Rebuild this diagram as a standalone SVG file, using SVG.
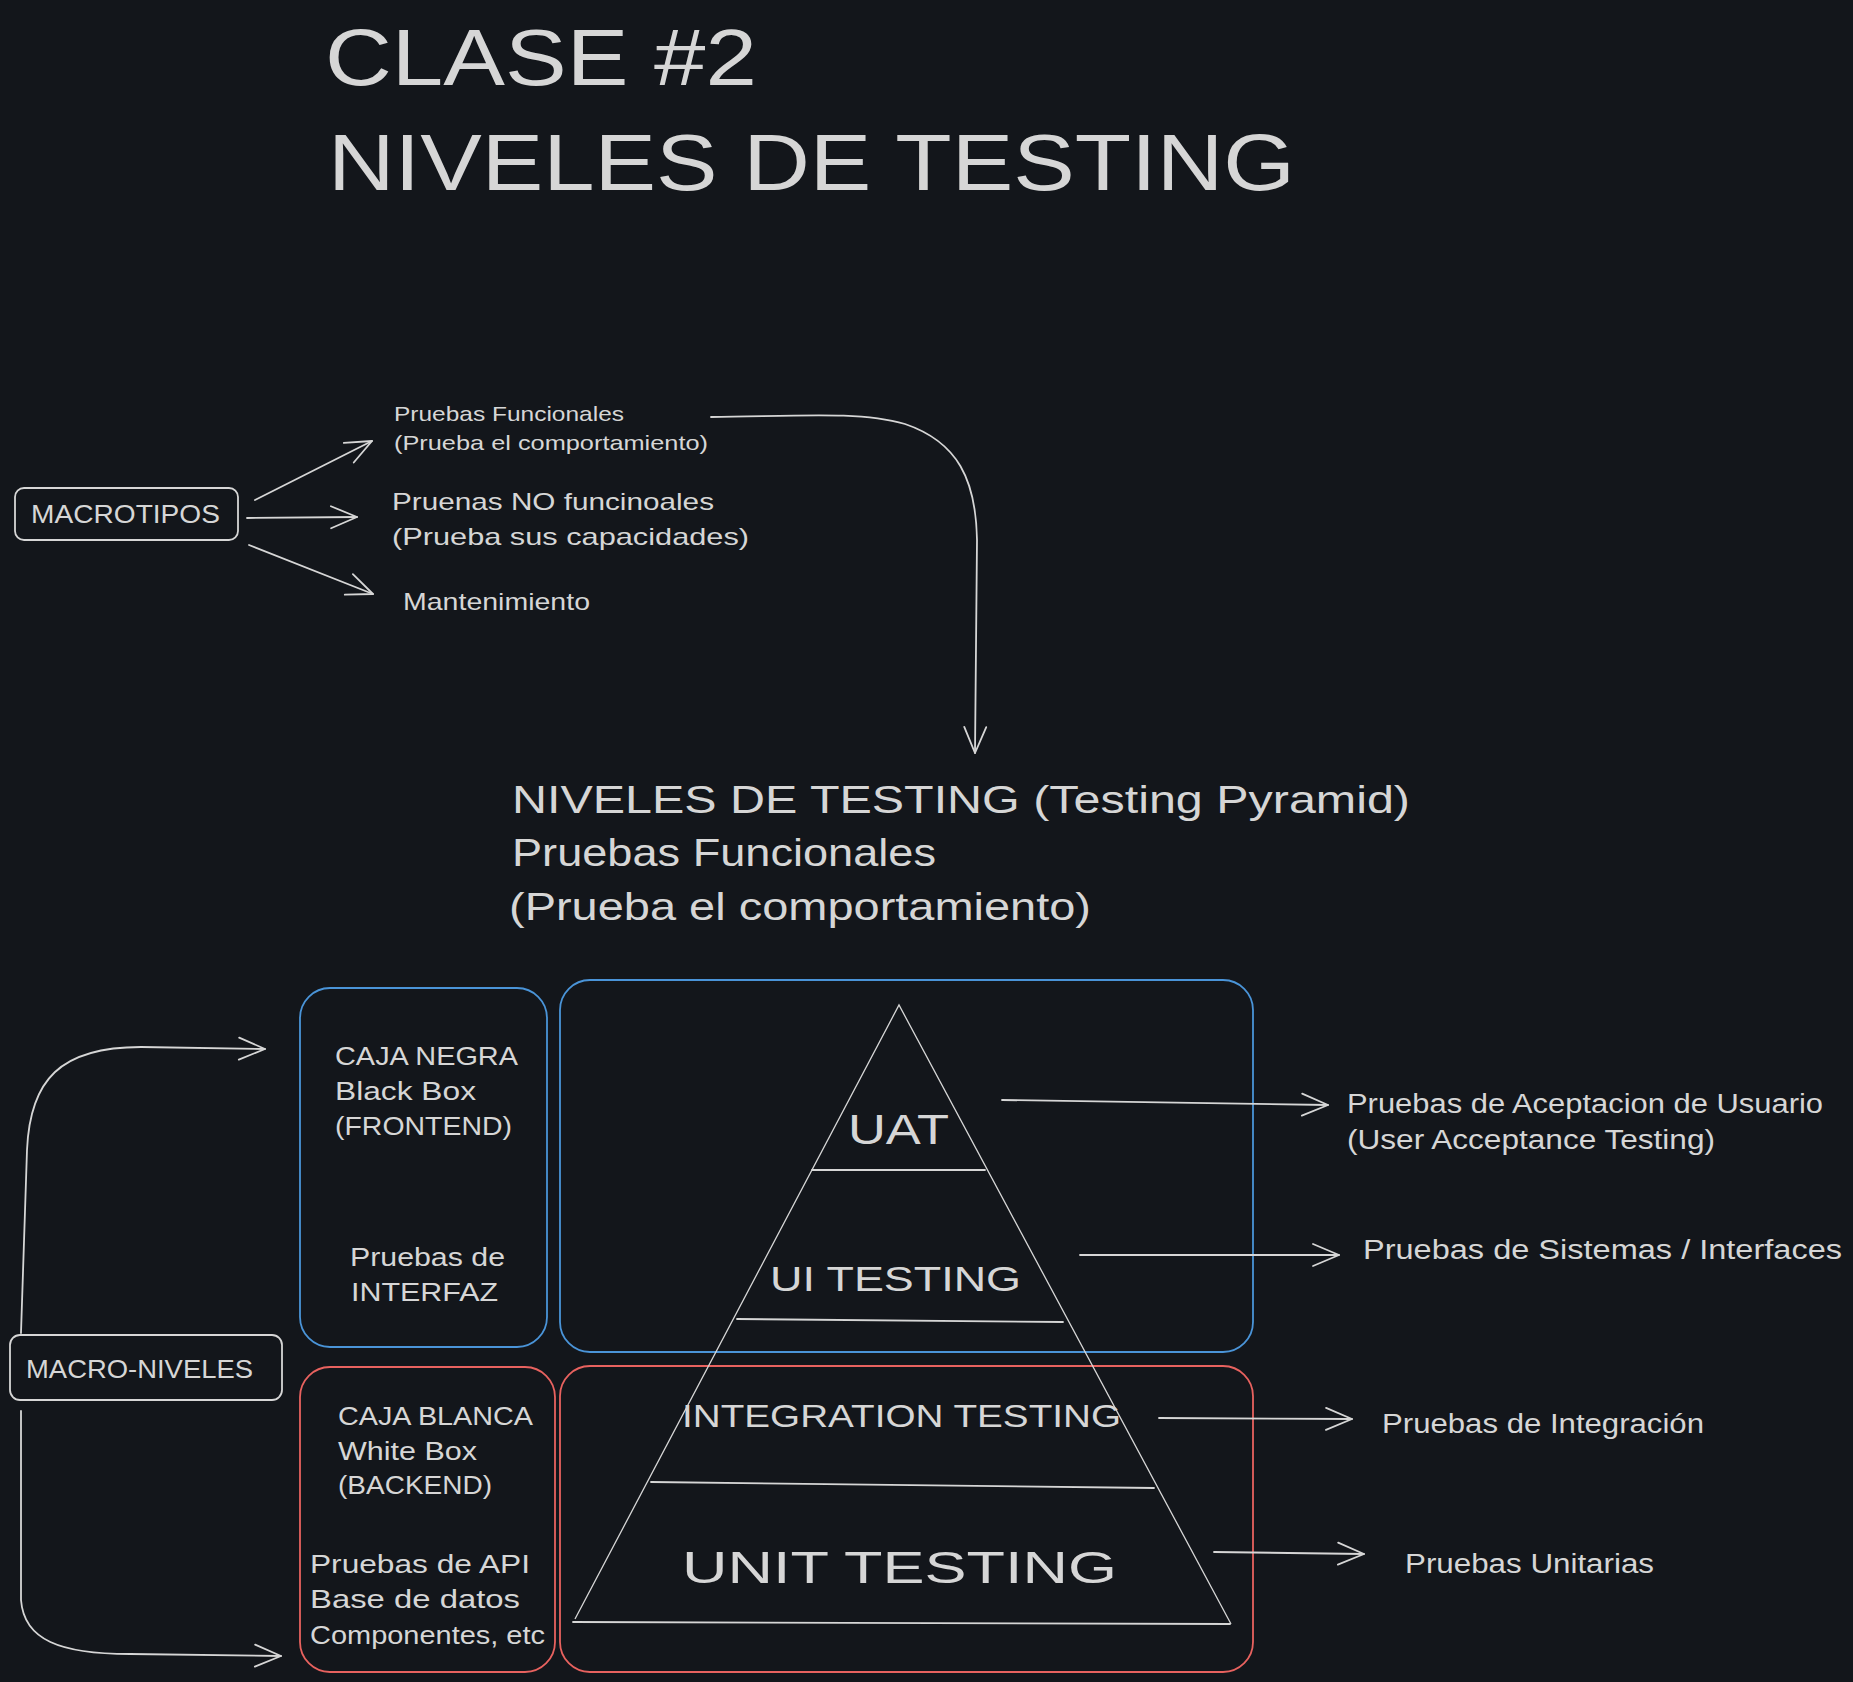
<svg xmlns="http://www.w3.org/2000/svg" width="1853" height="1682" viewBox="0 0 1853 1682">
<defs>
<style>
text{font-family:"Liberation Sans",Arial,sans-serif;fill:#d6d6d6;}
.ln{fill:none;stroke:#d6d6d6;stroke-width:1.8;stroke-linecap:round;stroke-linejoin:round;}
.thin{fill:none;stroke:#d6d6d6;stroke-width:1.3;}
.box{fill:none;stroke:#d6d6d6;stroke-width:1.8;}
.blue{fill:none;stroke:#4a94d8;stroke-width:1.8;}
.red{fill:none;stroke:#e8625f;stroke-width:1.8;}
.ar{marker-end:url(#arr);}
</style>
<marker id="arr" markerUnits="userSpaceOnUse" markerWidth="32" markerHeight="32" viewBox="0 0 32 32" refX="29" refY="16" orient="auto">
<path d="M3,5 L29,16 L3,27" fill="none" stroke="#d6d6d6" stroke-width="1.8" stroke-linecap="round" stroke-linejoin="round"/>
</marker>
</defs>
<rect width="1853" height="1682" fill="#13161b"/>

<g id="title">
<text x="325" y="85" font-size="80" textLength="432" lengthAdjust="spacingAndGlyphs">CLASE #2</text>
<text x="328" y="190" font-size="80" textLength="967" lengthAdjust="spacingAndGlyphs">NIVELES DE TESTING</text>
</g>

<g id="macrotipos">
<rect class="box" x="15" y="488" width="223" height="52" rx="9"/>
<text x="31" y="523" font-size="25" textLength="189" lengthAdjust="spacingAndGlyphs">MACROTIPOS</text>
</g>

<g id="funcionales">
<text x="394" y="421" font-size="21" textLength="230" lengthAdjust="spacingAndGlyphs">Pruebas Funcionales</text>
<text x="394" y="450" font-size="21" textLength="314" lengthAdjust="spacingAndGlyphs">(Prueba el comportamiento)</text>
</g>
<g id="nofuncionales">
<text x="392" y="510" font-size="24" textLength="322" lengthAdjust="spacingAndGlyphs">Pruenas NO funcinoales</text>
<text x="392" y="545" font-size="24" textLength="357" lengthAdjust="spacingAndGlyphs">(Prueba sus capacidades)</text>
</g>
<g id="mantenimiento">
<text x="403" y="610" font-size="24" textLength="187" lengthAdjust="spacingAndGlyphs">Mantenimiento</text>
</g>

<g id="header">
<text x="512" y="813" font-size="39" textLength="898" lengthAdjust="spacingAndGlyphs">NIVELES DE TESTING (Testing Pyramid)</text>
<text x="512" y="866" font-size="39" textLength="424" lengthAdjust="spacingAndGlyphs">Pruebas Funcionales</text>
<text x="509" y="920" font-size="39" textLength="582" lengthAdjust="spacingAndGlyphs">(Prueba el comportamiento)</text>
</g>

<g id="caja-negra">
<rect class="blue" x="300" y="988" width="247" height="359" rx="30"/>
<text x="335" y="1065" font-size="25" textLength="183" lengthAdjust="spacingAndGlyphs">CAJA NEGRA</text>
<text x="335" y="1100" font-size="25" textLength="141" lengthAdjust="spacingAndGlyphs">Black Box</text>
<text x="335" y="1135" font-size="25" textLength="177" lengthAdjust="spacingAndGlyphs">(FRONTEND)</text>
<text x="350" y="1266" font-size="25" textLength="155" lengthAdjust="spacingAndGlyphs">Pruebas de</text>
<text x="351" y="1301" font-size="25" textLength="147" lengthAdjust="spacingAndGlyphs">INTERFAZ</text>
</g>

<g id="caja-blanca">
<rect class="red" x="300" y="1367" width="255" height="305" rx="30"/>
<text x="338" y="1425" font-size="25" textLength="195" lengthAdjust="spacingAndGlyphs">CAJA BLANCA</text>
<text x="338" y="1460" font-size="25" textLength="139" lengthAdjust="spacingAndGlyphs">White Box</text>
<text x="338" y="1494" font-size="25" textLength="154" lengthAdjust="spacingAndGlyphs">(BACKEND)</text>
<text x="310" y="1573" font-size="25" textLength="220" lengthAdjust="spacingAndGlyphs">Pruebas de API</text>
<text x="310" y="1608" font-size="25" textLength="210" lengthAdjust="spacingAndGlyphs">Base de datos</text>
<text x="310" y="1644" font-size="25" textLength="235" lengthAdjust="spacingAndGlyphs">Componentes, etc</text>
</g>

<g id="zona-azul">
<rect class="blue" x="560" y="980" width="693" height="372" rx="30"/>
</g>
<g id="zona-roja">
<rect class="red" x="560" y="1366" width="693" height="306" rx="30"/>
</g>

<g id="macro-niveles">
<rect class="box" x="10" y="1335" width="272" height="65" rx="10"/>
<text x="26" y="1378" font-size="25" textLength="227" lengthAdjust="spacingAndGlyphs">MACRO-NIVELES</text>
</g>

<g id="piramide">
<path class="thin" d="M575,1619 L899,1005 L1231,1624"/>
<path class="ln" d="M812,1170 L985,1170"/>
<path class="ln" d="M737,1319 L1063,1322"/>
<path class="ln" d="M651,1482 L1154,1488"/>
<path class="ln" d="M573,1622 L1230,1624"/>
<text x="848" y="1144" font-size="42" textLength="101" lengthAdjust="spacingAndGlyphs">UAT</text>
<text x="770" y="1291" font-size="35" textLength="251" lengthAdjust="spacingAndGlyphs">UI TESTING</text>
<text x="682" y="1427" font-size="32" textLength="439" lengthAdjust="spacingAndGlyphs">INTEGRATION TESTING</text>
<text x="682" y="1583" font-size="45" textLength="435" lengthAdjust="spacingAndGlyphs">UNIT TESTING</text>
</g>

<g id="aceptacion">
<text x="1347" y="1113" font-size="27" textLength="476" lengthAdjust="spacingAndGlyphs">Pruebas de Aceptacion de Usuario</text>
<text x="1347" y="1149" font-size="27" textLength="368" lengthAdjust="spacingAndGlyphs">(User Acceptance Testing)</text>
</g>
<g id="sistemas">
<text x="1363" y="1259" font-size="27" textLength="479" lengthAdjust="spacingAndGlyphs">Pruebas de Sistemas / Interfaces</text>
</g>
<g id="integracion">
<text x="1382" y="1433" font-size="27" textLength="322" lengthAdjust="spacingAndGlyphs">Pruebas de Integración</text>
</g>
<g id="unitarias">
<text x="1405" y="1573" font-size="27" textLength="249" lengthAdjust="spacingAndGlyphs">Pruebas Unitarias</text>
</g>

<g id="connectors">
<path class="ln ar" d="M255,500 L372,441"/>
<path class="ln ar" d="M247,518 L357,517"/>
<path class="ln ar" d="M249,545 L373,594"/>
<path class="ln ar" d="M711,417 C800,416 860,411 905,424 C958,442 976,480 977,540 L975,753"/>
<path class="ln ar" d="M21,1333 L27,1150 C30,1080 60,1047 141,1047 L265,1049"/>
<path class="ln ar" d="M21,1411 L21,1600 C24,1640 60,1654 130,1654 L281,1656"/>
<path class="ln ar" d="M1002,1100 L1328,1105"/>
<path class="ln ar" d="M1080,1255 L1339,1255"/>
<path class="ln ar" d="M1159,1418 L1352,1419"/>
<path class="ln ar" d="M1214,1552 L1364,1554"/>
</g>
</svg>
